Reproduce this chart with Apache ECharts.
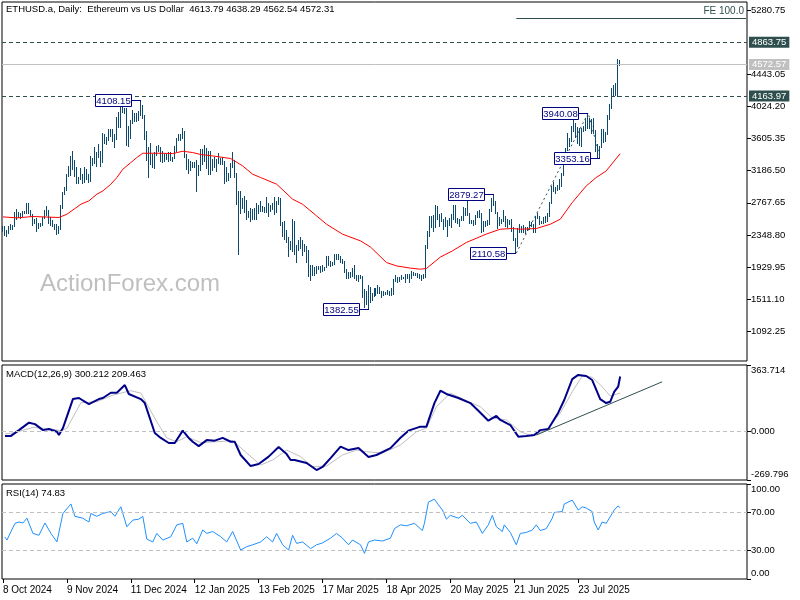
<!DOCTYPE html>
<html><head><meta charset="utf-8">
<script src="https://cdn.jsdelivr.net/npm/echarts@6/dist/echarts.min.js"></script>
<style>html,body{margin:0;padding:0;background:#fff}#c{width:800px;height:600px}</style>
</head><body><div id="c"></div>
<script>
// ---------- data ----------
const dateTicks = ['8 Oct 2024','9 Nov 2024','11 Dec 2024','12 Jan 2025','13 Feb 2025','17 Mar 2025','18 Apr 2025','20 May 2025','21 Jun 2025','23 Jul 2025'];
const priceTicks = [5280.75,4443.05,4024.20,3605.35,3186.50,2767.65,2348.80,1929.95,1511.10,1092.25];
const macdTicks = [363.714,0,-269.796];
const rsiTicks = [100,70,30,0];

// daily highs / lows, 8 Oct 2024 .. 13 Aug 2025
const highs = [
2470,2465,2415,2460,2490,2480,2645,2690,2645,2635,2660,2665,2760,2770,2680,2625,2560,2570,2510,2510,2580,2680,2720,2675,
2585,2540,2495,2490,2460,2740,2910,2970,3150,3250,3380,3440,3325,3240,3110,3220,3140,3230,3210,3140,3380,3355,3490,3430,3540,3450,3680,3665,3630,3735,
3735,3725,3670,3885,3955,4080,4020,4010,4005,3770,3850,3985,3940,3945,3970,4108.15,4050,3910,3710,3490,3550,3400,3430,3510,3520,3495,3440,3410,3410,3430,3430,
3370,3505,3620,3670,3670,3745,3700,3410,3340,3320,3295,3300,3330,3255,3470,3470,3525,3480,3450,3450,3340,3360,3345,3420,3355,3370,3310,3240,3160,3285,3435,
3330,3160,2920,2920,2830,2860,2800,2660,2700,2690,2695,2760,2740,2790,2730,2715,2845,2760,2735,2765,2845,2790,2845,2830,2520,2530,2410,2320,
2275,2550,2525,2220,2280,2320,2280,2230,2205,2150,1960,1955,1925,1945,1945,1945,1950,1935,2070,2070,2005,2000,2095,2105,2105,2075,2035,2010,1910,1865,1860,
1920,1955,1830,1830,1825,1815,1640,1615,1690,1670,1595,1650,1660,1690,1665,1610,1610,1600,1625,1615,1660,1775,1830,1800,1800,1825,1805,1840,1835,1835,
1875,1870,1850,1845,1835,1825,1840,2215,2400,2590,2600,2615,2740,2725,2620,2640,2555,2585,2540,2575,2625,2735,2740,2565,2560,2600,2715,2695,2785,2640,2545,
2545,2610,2655,2680,2640,2530,2535,2540,2690,2830,2879.27,2785,2650,2580,2560,2680,2600,2550,2545,2560,2450,2305,2440,2485,2470,2480,2455,2450,2525,2515,
2495,2590,2640,2595,2535,2585,2590,2630,2780,2990,3040,2980,3000,3080,3160,3390,3480,3680,3620,3770,3860,3810,3760,3750,3740,3775,3880,3940.08,3880,3860,3875,
3720,3530,3510,3730,3730,3690,3920,4060,4270,4300,4330,4650,4638.29];
const lows = [
2405,2352,2340,2380,2425,2430,2460,2555,2580,2575,2595,2630,2640,2640,2600,2475,2510,2400,2435,2470,2475,2565,2615,2500,
2475,2470,2420,2360,2370,2425,2700,2880,2940,3120,3130,3210,3120,3030,3020,3080,3030,3040,3080,3040,3050,3260,3290,3250,3360,3250,3300,3545,3540,3585,
3640,3580,3500,3595,3760,3760,3955,3945,3520,3510,3620,3815,3840,3830,3850,3920,3880,3600,3330,3105,3280,3230,3220,3390,3450,3310,3300,3320,3340,3310,3325,
3320,3355,3440,3590,3590,3620,3360,3210,3160,3190,3240,3230,2920,3125,3200,3270,3310,3220,3140,3150,3200,3230,3180,3290,3280,3280,3030,3050,3060,3110,3230,
3100,2750,2100,2640,2700,2650,2560,2580,2530,2560,2560,2560,2630,2660,2665,2650,2650,2600,2660,2690,2620,2650,2750,2480,2330,2300,2250,2075,
2170,2140,2100,1990,2150,2180,2080,2140,2000,1810,1755,1830,1820,1855,1905,1865,1880,1885,1925,1960,1945,1960,1975,2030,2030,1995,1985,1865,1790,1780,1795,
1815,1780,1760,1750,1785,1535,1410,1450,1382.55,1475,1505,1550,1565,1590,1585,1540,1565,1575,1580,1565,1570,1580,1745,1735,1745,1775,1780,1740,1780,1740,
1790,1830,1825,1800,1780,1755,1785,1805,2175,2340,2450,2400,2450,2560,2460,2530,2420,2465,2330,2480,2455,2550,2520,2505,2470,2540,2540,2615,2610,2510,2500,
2475,2485,2580,2580,2390,2400,2470,2475,2485,2660,2740,2630,2440,2480,2500,2530,2470,2450,2490,2400,2280,2110.58,2200,2390,2390,2390,2375,2410,2420,2470,
2390,2390,2565,2485,2500,2500,2520,2525,2600,2760,2920,2900,2935,2950,2990,3125,3320,3460,3515,3580,3700,3630,3550,3520,3510,3700,3720,3750,3740,3680,3680,
3450,3360,3353.16,3490,3560,3570,3660,3860,4000,4160,4170,4160,4562.54];

// moving average (red), read at sample bars
const maBars = [0,7,15,28,32,36,39,43,47,50,54,57,60,64,67,70,79,85,90,95,99,105,114,120,125,129,137,145,150,157,162,170,179,184,192,197,204,209,212,219,225,232,242,249,255,259,267,274,279,285,292,297,302,309];
const maVals = [2584,2571,2589,2576,2619,2693,2749,2793,2880,2923,3010,3098,3206,3293,3359,3415,3415,3411,3441,3424,3398,3380,3346,3249,3141,3098,3011,2815,2749,2597,2488,2358,2271,2190,1988,1944,1915,1901,1910,2060,2140,2250,2360,2423,2432,2423,2432,2488,2554,2771,2988,3098,3184,3410];

// high/low labels
const hlBars = [69,183,246,257,293,299];
const hlVals = [4108.15,1382.55,2879.27,2110.58,3940.08,3353.16];

// fibonacci expansion points A,B,C and FE 100
const fibBars = [257,293,299];
const fibVals = [2110.58,3940.08,3353.16];
const fe100 = 5182.66;
const levels = [4863.75,4163.97];
const lastPrice = 4572.57;

// MACD
const macdBars = [1,4,8,13,16,20,23,27,28,30,35,38,43,48,50,54,57,61,63,69,71,76,79,83,86,90,93,95,98,102,106,110,114,116,119,124,128,133,138,142,144,146,152,157,160,164,169,173,178,183,187,194,199,203,209,212,216,219,222,228,234,238,243,247,249,254,258,262,266,269,273,278,281,285,288,292,295,299,302,304,306,308,309];
const macdVals = [-27,-27,5,46,38,5,11,-4,-22,16,176,182,148,176,182,211,211,253,204,176,154,-11,-38,-66,-66,2,-38,-59,-83,-50,-53,-38,-59,-59,-132,-193,-182,-141,-88,-127,-160,-160,-176,-215,-198,-149,-86,-105,-94,-143,-132,-94,-37,2,24,24,154,222,204,182,154,112,57,83,61,33,-31,-28,-22,5,11,101,171,286,309,303,281,176,154,161,216,244,300.212];
const sigBars = [1,6,15,24,29,32,39,47,55,64,69,77,82,87,92,99,107,115,122,129,135,142,149,155,162,170,177,182,190,199,207,212,217,224,232,239,245,252,259,265,272,279,285,290,295,300,304,309];
const sigVals = [-16,-9,20,11,2,15,156,161,198,222,209,51,-38,-59,-31,-64,-59,-53,-121,-187,-160,-105,-141,-197,-193,-132,-105,-114,-121,-77,-4,16,134,209,167,134,72,61,-4,-28,5,99,216,303,297,244,193,209.463];
const macdTrendBars = [267,330];
const macdTrendVals = [-22,271];

// RSI
const rsiBars = [1,2,4,6,8,10,12,15,18,21,24,27,30,34,36,40,43,44,47,50,54,56,59,62,65,68,70,72,75,77,80,84,87,90,92,95,97,100,102,105,109,112,115,119,122,125,129,132,135,137,140,143,145,147,150,154,157,160,164,167,170,173,175,179,181,183,186,190,194,196,199,202,206,210,211,213,216,218,220,222,224,225,228,230,234,237,240,243,245,247,250,251,254,255,257,259,262,265,267,269,272,275,276,280,281,285,286,288,290,292,295,296,298,300,302,305,306,308,309];
const rsiVals = [44,41,50,58.6,60,59,64,48,46,59,48,39,69,79,66,64,60,69,66,69,71,66,76,55,62,63,66,42,39,48,41,44.5,57,58.6,39,43,37,51.6,48,50,44.5,39,50,30.5,34,36,39,44.5,39,48,36,30.5,46,37.5,39,32,36,38,43,48,43,36,41,36,27,39,41,40,43,53,57,56,58.6,51,58.6,81,84,78,72.6,63,67,69,64,67,58.6,60,48,57,67,55,50,57,49,48,36,48,49,51.6,57,51,53,64,70,71,79,83,85,72.6,76,74.7,71,60,51.6,60,58.6,69,72.6,77,74.83];

// ---------- build ----------
const NSLOT = 373;
const MON = ['Jan','Feb','Mar','Apr','May','Jun','Jul','Aug','Sep','Oct','Nov','Dec'];
const cats = [];
for (let i = 0; i < NSLOT; i++) {
  const d = new Date(Date.UTC(2024, 9, 8 + i));
  cats.push(d.getUTCDate() + ' ' + MON[d.getUTCMonth()] + ' ' + d.getUTCFullYear());
}
const pairs = (xs, ys) => xs.map((x, i) => [x, ys[i]]);
const barData = highs.map((h, i) => [i, lows[i], h]);
const FONT = '"Liberation Sans", Arial, sans-serif';
const BAR = '#0b4a6e';
const SLATE = '#2f4f4f';
const isTick = (idx, v) => dateTicks.indexOf(v) >= 0;

const chart = echarts.init(document.getElementById('c'), null, {renderer: 'canvas'});
const xBase = (g) => ({
  type: 'category', gridIndex: g, data: cats, boundaryGap: true,
  axisLine: {show: false}, axisTick: {show: false}, axisLabel: {show: false}, splitLine: {show: false}
});
// edge labels are pushed inside the panel (like the terminal does)
const yBase = (g, min, max, ticks, digits, edgeInside) => ({
  type: 'value', gridIndex: g, position: 'right', min: min, max: max, scale: true,
  splitLine: {show: false}, axisLine: {show: false},
  axisTick: {show: true, inside: false, length: 4, customValues: ticks, lineStyle: {color: '#000'}},
  axisLabel: {show: true, customValues: ticks, margin: 4, fontSize: 9.5, fontFamily: FONT, color: '#000',
    formatter: (v) => {
      const s = Number(v).toFixed(digits);
      if (edgeInside && Math.abs(v - max) < 1e-6) return '{dn|' + s + '}';
      if (edgeInside && Math.abs(v - min) < 1e-6) return '{up|' + s + '}';
      return s;
    },
    rich: {
      dn: {padding: [10, 0, 0, 0], fontSize: 9.5, fontFamily: FONT, color: '#000'},
      up: {padding: [0, 0, 11, 0], fontSize: 9.5, fontFamily: FONT, color: '#000'}
    }
  }
});

const option = {
  animation: false,
  backgroundColor: '#fff',
  grid: [
    {left: 2, top: 2, width: 745, height: 359, show: true, borderColor: '#000', borderWidth: 1, backgroundColor: 'transparent'},
    {left: 2, top: 365, width: 745, height: 115, show: true, borderColor: '#000', borderWidth: 1, backgroundColor: 'transparent'},
    {left: 2, top: 484, width: 745, height: 95, show: true, borderColor: '#000', borderWidth: 1, backgroundColor: 'transparent'}
  ],
  xAxis: [
    xBase(0), xBase(1),
    Object.assign(xBase(2), {
      axisTick: {show: true, interval: isTick, alignWithLabel: true, inside: false, length: 4, lineStyle: {color: '#000'}},
      axisLabel: {show: true, interval: isTick, align: 'left', margin: 6, fontSize: 10, fontFamily: FONT, color: '#000', hideOverlap: false}
    })
  ],
  yAxis: [
    yBase(0, 702.3, 5389.7, priceTicks, 2, false),
    yBase(1, -269.796, 363.714, macdTicks, 3, true),
    yBase(2, 0, 100, rsiTicks, 2, true)
  ],
  graphic: [
    {type: 'text', left: 6, top: 4, z: 100, style: {text: 'ETHUSD.a, Daily:  Ethereum vs US Dollar  4613.79 4638.29 4562.54 4572.31', font: '9.5px ' + FONT, fill: '#000'}},
    {type: 'text', left: 6, top: 369, z: 100, style: {text: 'MACD(12,26,9) 300.212 209.463', font: '9.5px ' + FONT, fill: '#000'}},
    {type: 'text', left: 6, top: 488, z: 100, style: {text: 'RSI(14) 74.83', font: '9.5px ' + FONT, fill: '#000'}},
    {type: 'text', left: 40, top: 272, z: 1, style: {text: 'ActionForex.com', font: '24px ' + FONT, fill: '#bfbfbf'}}
  ],
  series: [
    {
      type: 'custom', name: 'bars', xAxisIndex: 0, yAxisIndex: 0, data: barData, clip: false,
      encode: {x: 0, y: [1, 2]}, z: 3,
      renderItem: function (params, api) {
        const i = api.value(0);
        const lo = api.coord([i, api.value(1)]);
        const hi = api.coord([i, api.value(2)]);
        const x = Math.round(lo[0]) - 0.5;
        return {type: 'line', shape: {x1: x, y1: Math.round(hi[1]), x2: x, y2: Math.round(lo[1]) + 1},
          style: {stroke: BAR, lineWidth: 1}};
      }
    },
    {
      type: 'line', name: 'MA', xAxisIndex: 0, yAxisIndex: 0, data: pairs(maBars, maVals),
      showSymbol: false, symbol: 'none', lineStyle: {color: '#ff0000', width: 1}, z: 4, silent: true,
      markLine: {
        silent: true, symbol: ['none', 'none'], animation: false,
        label: {show: true, position: 'end', distance: 2, fontSize: 9.5, fontFamily: FONT, padding: [1, 3, 0, 3]},
        data: [
          {yAxis: levels[0], lineStyle: {type: [4, 3], color: SLATE, width: 1},
            label: {formatter: levels[0].toFixed(2), backgroundColor: SLATE, color: '#fff'}},
          {yAxis: levels[1], lineStyle: {type: [4, 3], color: SLATE, width: 1},
            label: {formatter: levels[1].toFixed(2), backgroundColor: SLATE, color: '#fff'}},
          {yAxis: lastPrice, lineStyle: {type: 'solid', color: '#c0c0c0', width: 1},
            label: {formatter: lastPrice.toFixed(2), backgroundColor: '#c0c0c0', color: '#fff'}}
        ]
      }
    },
    {
      type: 'line', name: 'fib', xAxisIndex: 0, yAxisIndex: 0, data: pairs(fibBars, fibVals),
      showSymbol: false, symbol: 'none', lineStyle: {color: SLATE, width: 1, type: [2, 3]}, z: 5, silent: true,
      markLine: {
        silent: true, symbol: ['none', 'none'], animation: false,
        lineStyle: {type: 'solid', color: SLATE, width: 1},
        label: {show: true, position: 'insideEndTop', formatter: 'FE 100.0', color: SLATE, fontSize: 10, fontFamily: FONT, distance: [2, 2]},
        data: [[{coord: [fibBars[0], fe100]}, {coord: [NSLOT - 1, fe100]}]]
      }
    },
    {
      type: 'custom', name: 'hl', xAxisIndex: 0, yAxisIndex: 0, data: pairs(hlBars, hlVals), clip: false, z: 10,
      encode: {x: 0, y: 1},
      renderItem: function (params, api) {
        const p = api.coord([api.value(0), api.value(1)]);
        const px = Math.round(p[0]) - 1;
        const py = Math.round(p[1]);
        const w = 36, h = 12;
        const bx = px - 9 - w;
        const by = py - 6;
        return {type: 'group', children: [
          {type: 'line', shape: {x1: bx + w, y1: py + 0.5, x2: px + 1, y2: py + 0.5}, style: {stroke: '#000080', lineWidth: 1}},
          {type: 'rect', shape: {x: bx + 0.5, y: by + 0.5, width: w, height: h}, style: {fill: '#fff', stroke: '#000080', lineWidth: 1}},
          {type: 'text', style: {text: hlVals[params.dataIndex].toFixed(2), x: bx + w / 2 + 0.5, y: by + h / 2 + 1,
            align: 'center', verticalAlign: 'middle', fill: '#000080', font: '9.5px ' + FONT}}
        ]};
      }
    },
    {
      type: 'line', name: 'signal', xAxisIndex: 1, yAxisIndex: 1, data: pairs(sigBars, sigVals),
      showSymbol: false, symbol: 'none', lineStyle: {color: '#c0c0c0', width: 1}, z: 3, silent: true,
      markLine: {silent: true, symbol: ['none', 'none'], label: {show: false},
        lineStyle: {type: [4, 3], color: '#c0c0c0', width: 1}, data: [{yAxis: 0}]}
    },
    {
      type: 'line', name: 'macd', xAxisIndex: 1, yAxisIndex: 1, data: pairs(macdBars, macdVals),
      showSymbol: false, symbol: 'none', lineStyle: {color: '#00008b', width: 2}, z: 4, silent: true
    },
    {
      type: 'line', name: 'macdTrend', xAxisIndex: 1, yAxisIndex: 1, data: pairs(macdTrendBars, macdTrendVals),
      showSymbol: false, symbol: 'none', lineStyle: {color: SLATE, width: 1}, z: 5, silent: true
    },
    {
      type: 'line', name: 'rsi', xAxisIndex: 2, yAxisIndex: 2, data: pairs(rsiBars, rsiVals),
      showSymbol: false, symbol: 'none', lineStyle: {color: '#1e90ff', width: 1}, z: 4, silent: true,
      markLine: {silent: true, symbol: ['none', 'none'], label: {show: false},
        lineStyle: {type: [4, 3], color: '#c0c0c0', width: 1}, data: [{yAxis: 70}, {yAxis: 30}]}
    }
  ]
};
chart.setOption(option);
</script>
</body></html>
